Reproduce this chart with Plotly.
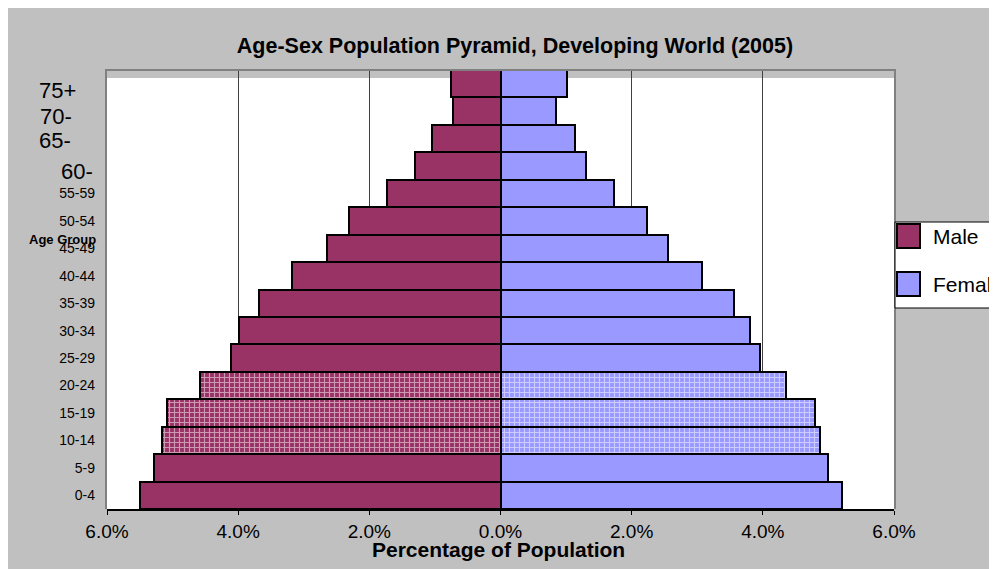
import plotly.graph_objects as go

# Age groups, bottom to top
AGE_GROUPS = ["0-4", "5-9", "10-14", "15-19", "20-24", "25-29", "30-34", "35-39",
              "40-44", "45-49", "50-54", "55-59", "60-64", "65-69", "70-74", "75+"]

# Percentage of total population
MALE_PCT = [5.50, 5.28, 5.16, 5.08, 4.58, 4.11, 3.98, 3.69,
            3.18, 2.64, 2.31, 1.73, 1.31, 1.04, 0.72, 0.75]
FEMALE_PCT = [5.21, 4.99, 4.87, 4.79, 4.35, 3.95, 3.80, 3.56,
              3.07, 2.55, 2.24, 1.73, 1.31, 1.13, 0.84, 1.02]

# tick text as shown (top four groups are written in a bigger font)
TICK_LABELS = ["0-4", "5-9", "10-14", "15-19", "20-24", "25-29", "30-34", "35-39",
               "40-44", "45-49", "50-54", "55-59", "", "", "", ""]
BIG_LABELS = ["60-", "65-", "70-", "75+"]
BIG_LABEL_GROUPS = ["60-64", "65-69", "70-74", "75+"]

HATCHED_GROUPS = ["10-14", "15-19", "20-24"]

X_TICKS = [-6, -4, -2, 0, 2, 4, 6]
X_TICK_LABELS = ["6.0%", "4.0%", "2.0%", "0.0%", "2.0%", "4.0%", "6.0%"]

TITLE = "Age-Sex Population Pyramid, Developing World (2005)"
X_TITLE = "Percentage of Population"
Y_TITLE = "Age Group"
SERIES = ["Male", "Female"]

MALE_COLOR = "#993366"
FEMALE_COLOR = "#9999FF"
BG_GRAY = "#C0C0C0"
FONT = "Liberation Sans, Arial, sans-serif"

# page has an 8px body margin, positions below are in screenshot pixels
OFF = 8
W, H = 997, 569
L, R, T, B = 99, 111, 62, 68
PW, PH = W - L - R, H - T - B


def px_x(sx):
    return (sx - OFF - L) / PW


def px_y(sy):
    return (H - B - (sy - OFF)) / PH


patterns = ["+" if g in HATCHED_GROUPS else "" for g in AGE_GROUPS]

fig = go.Figure()
fig.add_trace(go.Bar(
    y=AGE_GROUPS, x=[-v for v in MALE_PCT], orientation="h", name=SERIES[0],
    marker=dict(color=MALE_COLOR, line=dict(color="black", width=2),
                pattern=dict(shape=patterns, fgcolor="white", bgcolor=MALE_COLOR,
                             size=5, solidity=0.4, fillmode="overlay")),
    showlegend=False,
))
fig.add_trace(go.Bar(
    y=AGE_GROUPS, x=FEMALE_PCT, orientation="h", name=SERIES[1],
    marker=dict(color=FEMALE_COLOR, line=dict(color="black", width=2),
                pattern=dict(shape=patterns, fgcolor="white", bgcolor=FEMALE_COLOR,
                             size=5, solidity=0.4, fillmode="overlay")),
    showlegend=False,
))

shapes = [
    # gray band at top of plot area
    dict(type="rect", xref="x", yref="paper", x0=-6, x1=6, y0=px_y(78), y1=1,
         fillcolor=BG_GRAY, line_width=0, layer="below"),
    # plot frame (gray)
    dict(type="line", xref="paper", yref="paper", x0=px_x(105), x1=px_x(896),
         y0=px_y(70), y1=px_y(70), line=dict(color="#808080", width=2), layer="above"),
    dict(type="line", xref="paper", yref="paper", x0=px_x(106), x1=px_x(106),
         y0=px_y(70), y1=0, line=dict(color="#808080", width=2), layer="above"),
    dict(type="line", xref="paper", yref="paper", x0=px_x(895), x1=px_x(895),
         y0=px_y(70), y1=0, line=dict(color="#808080", width=2), layer="above"),
    # legend box
    dict(type="rect", xref="paper", yref="paper", x0=px_x(895), x1=px_x(1030),
         y0=px_y(308), y1=px_y(222), fillcolor="white",
         line=dict(color="black", width=1), layer="above"),
    dict(type="rect", xref="paper", yref="paper", x0=px_x(897), x1=px_x(920),
         y0=px_y(248), y1=px_y(224), fillcolor=MALE_COLOR,
         line=dict(color="black", width=2), layer="above"),
    dict(type="rect", xref="paper", yref="paper", x0=px_x(897), x1=px_x(920),
         y0=px_y(296), y1=px_y(272), fillcolor=FEMALE_COLOR,
         line=dict(color="black", width=2), layer="above"),
]

annotations = [
    dict(text=SERIES[0], xref="paper", yref="paper", x=px_x(931), y=px_y(237),
         xanchor="left", yanchor="middle", showarrow=False,
         font=dict(family=FONT, size=21, color="black")),
    dict(text=SERIES[1], xref="paper", yref="paper", x=px_x(931), y=px_y(284),
         xanchor="left", yanchor="middle", showarrow=False,
         font=dict(family=FONT, size=21, color="black")),
    dict(text="<b>" + Y_TITLE + "</b>", xref="paper", yref="paper", x=px_x(98), y=px_y(240),
         xanchor="right", yanchor="middle", showarrow=False,
         font=dict(family=FONT, size=13, color="black")),
    dict(text="<b>" + X_TITLE + "</b>", xref="paper", yref="paper", x=px_x(498), y=px_y(549),
         xanchor="center", yanchor="middle", showarrow=False,
         font=dict(family=FONT, size=21, color="black")),
]

big_pos = {"75+": (37, 7), "70-74": (38, 5), "65-69": (37, 2), "60-64": (59, 5)}
for lab, grp in zip(BIG_LABELS, BIG_LABEL_GROUPS):
    xp, dy = big_pos[grp]
    annotations.append(dict(
        text=lab, xref="paper", yref="y", x=px_x(xp), y=grp, yshift=-dy,
        xanchor="left", yanchor="middle", showarrow=False,
        font=dict(family=FONT, size=22, color="black")))

fig.update_layout(
    width=W, height=H,
    margin=dict(l=L, r=R, t=T, b=B, autoexpand=False),
    paper_bgcolor=BG_GRAY, plot_bgcolor="white",
    barmode="relative", bargap=0,
    showlegend=False,
    title=dict(text="<b>" + TITLE + "</b>", x=px_x(515), xref="paper", xanchor="center",
               y=1 - (45 - OFF) / H, yanchor="middle",
               font=dict(family=FONT, size=21.5, color="black")),
    xaxis=dict(range=[-6, 6], tickvals=X_TICKS, ticktext=X_TICK_LABELS,
               showgrid=True, gridcolor="#404040", gridwidth=1, zeroline=False,
               showline=True, linecolor="black", linewidth=2,
               ticks="outside", ticklen=4, tickcolor="black",
               tickfont=dict(family=FONT, size=19, color="black")),
    yaxis=dict(categoryorder="array", categoryarray=AGE_GROUPS,
               tickvals=AGE_GROUPS, ticktext=TICK_LABELS,
               showgrid=False, zeroline=False, showline=False, ticks="",
               ticklabelstandoff=11,
               tickfont=dict(family=FONT, size=14, color="black")),
    shapes=shapes,
    annotations=annotations,
)

fig.write_html("out.html")
